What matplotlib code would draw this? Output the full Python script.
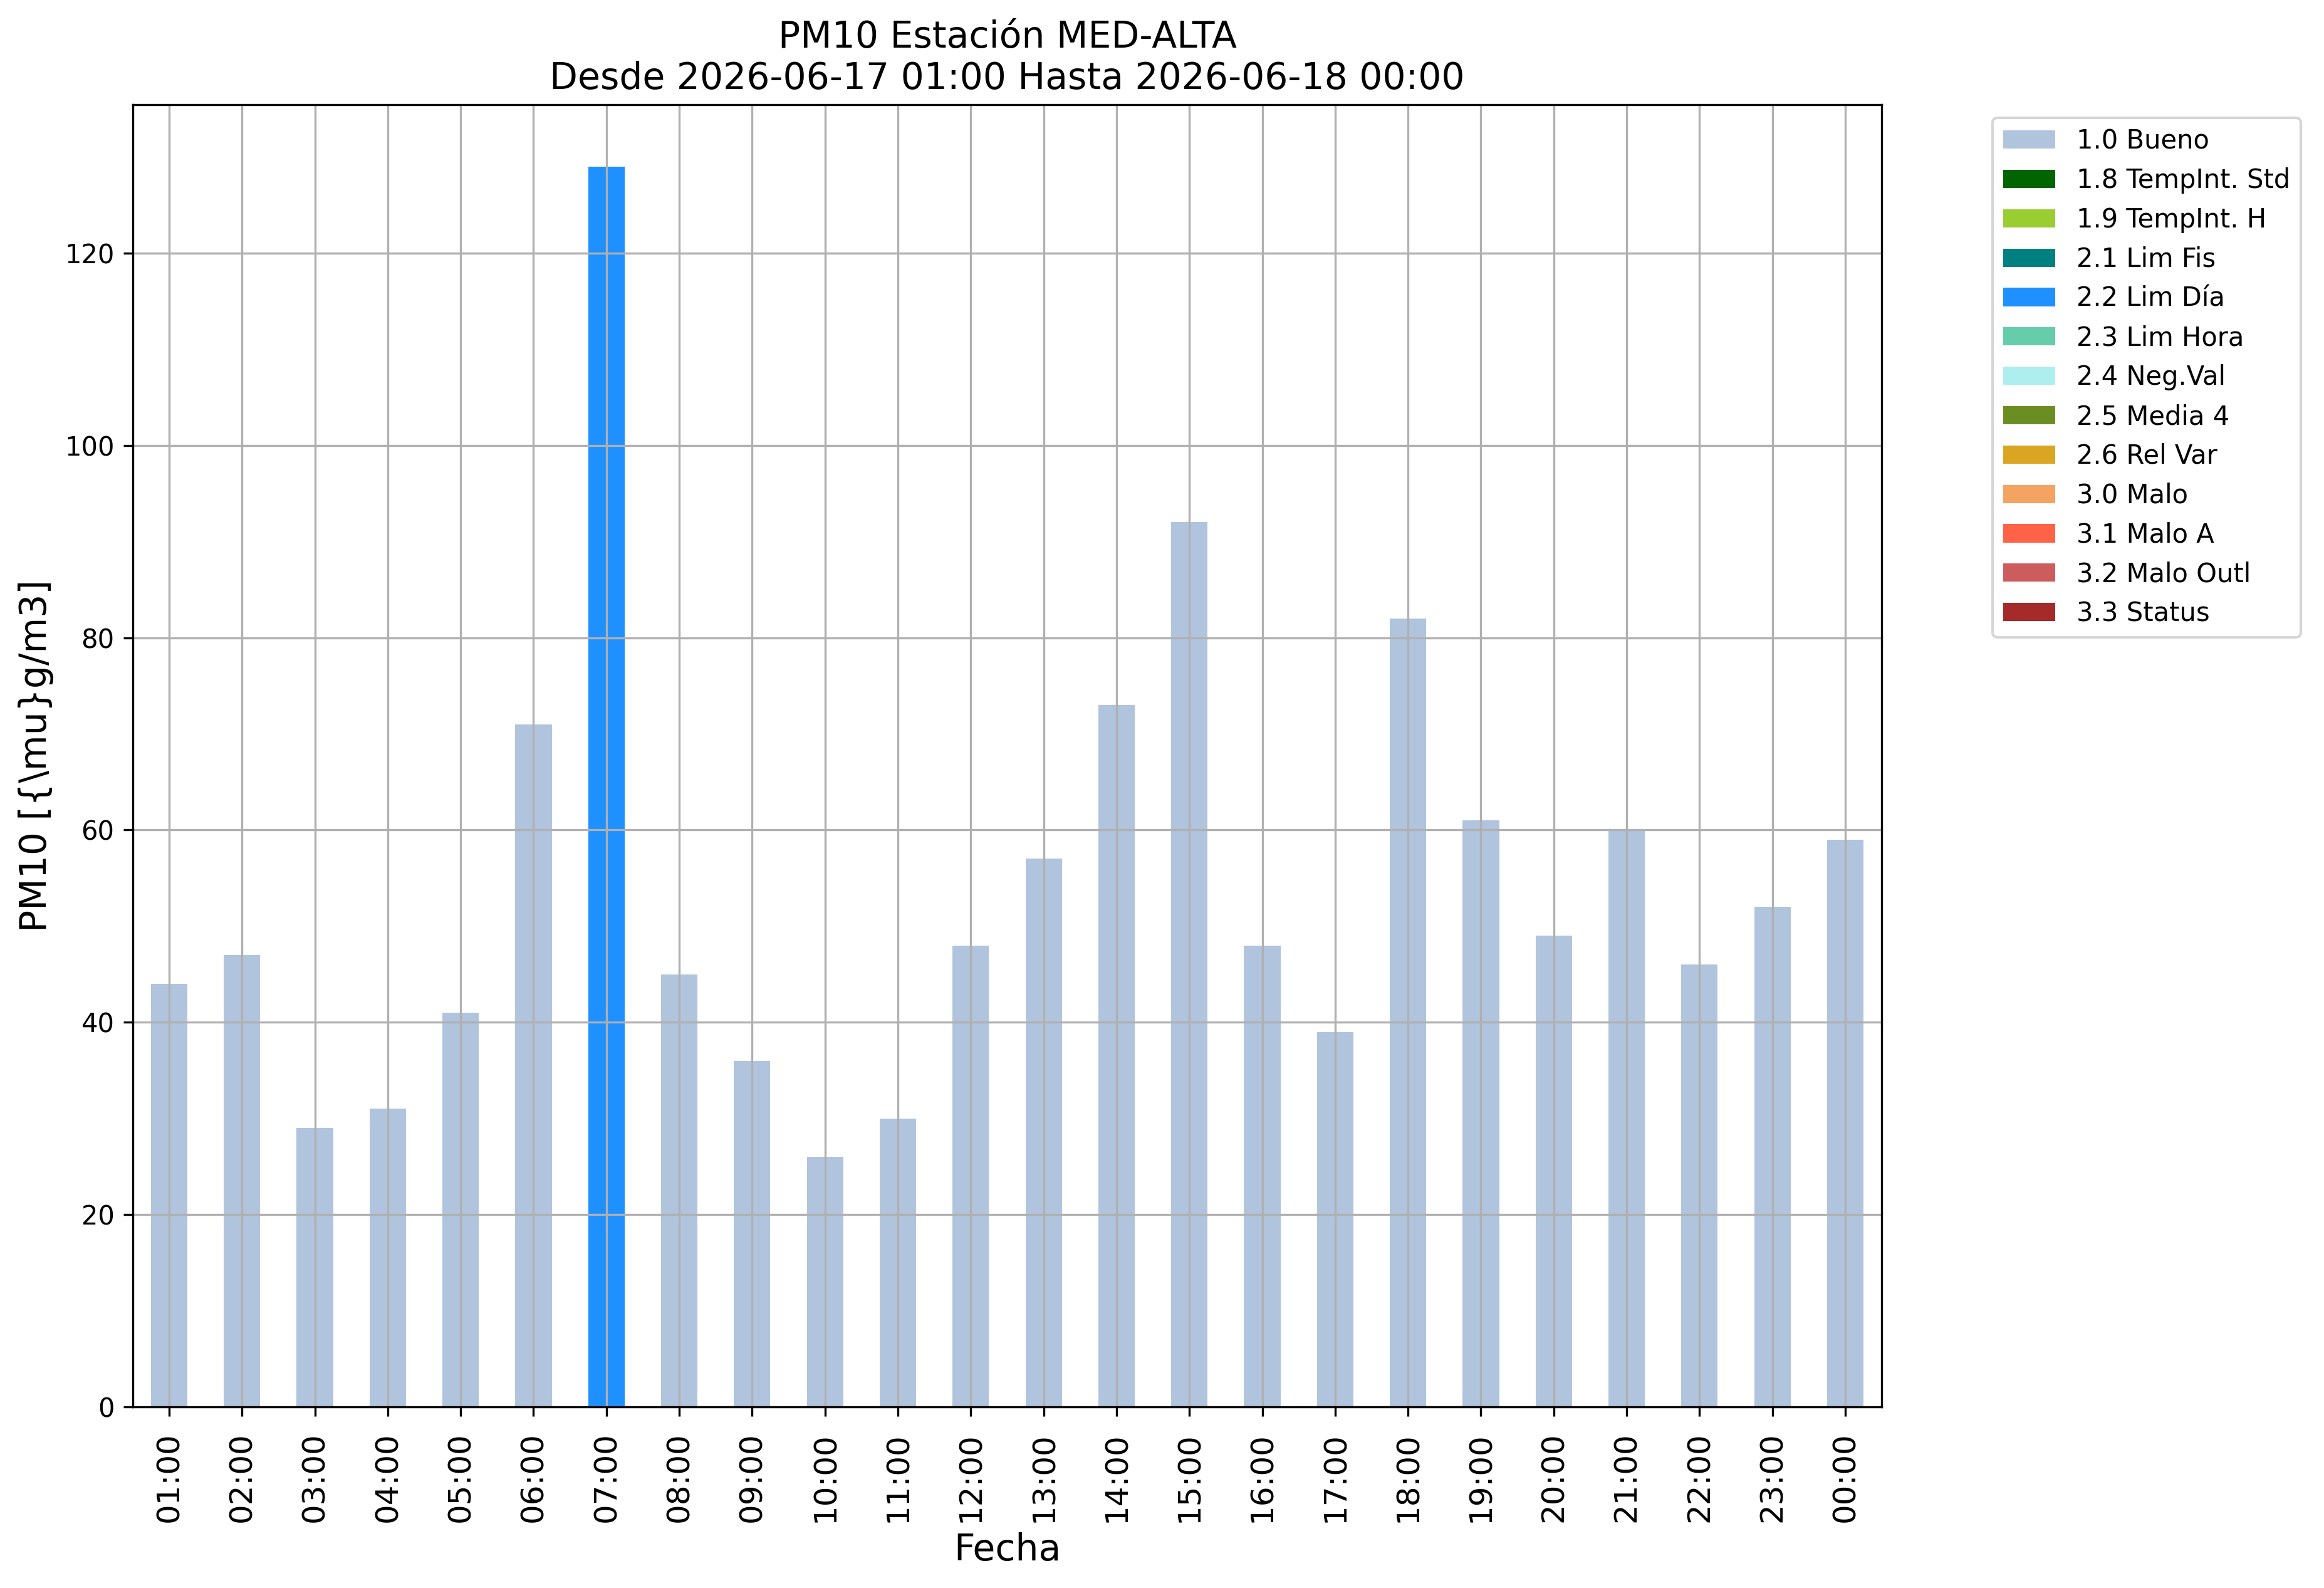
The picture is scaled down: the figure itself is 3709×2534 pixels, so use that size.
import numpy as np
import matplotlib
matplotlib.use("Agg")
import matplotlib.pyplot as plt

# hourly labels and PM10 values
horas = ["01:00", "02:00", "03:00", "04:00", "05:00", "06:00", "07:00", "08:00",
         "09:00", "10:00", "11:00", "12:00", "13:00", "14:00", "15:00", "16:00",
         "17:00", "18:00", "19:00", "20:00", "21:00", "22:00", "23:00", "00:00"]
pm10 = [44, 47, 29, 31, 41, 71, 129, 45, 36, 26, 30, 48, 57, 73, 92, 48,
        39, 82, 61, 49, 60, 46, 52, 59]
# validation flag for each hour
flags = ["1.0 Bueno"] * 24
flags[6] = "2.2 Lim Día"

categorias = ["1.0 Bueno", "1.8 TempInt. Std", "1.9 TempInt. H", "2.1 Lim Fis",
              "2.2 Lim Día", "2.3 Lim Hora", "2.4 Neg.Val", "2.5 Media 4",
              "2.6 Rel Var", "3.0 Malo", "3.1 Malo A", "3.2 Malo Outl", "3.3 Status"]
colores = ["lightsteelblue", "darkgreen", "yellowgreen", "teal", "dodgerblue",
           "mediumaquamarine", "paleturquoise", "olivedrab", "goldenrod",
           "sandybrown", "tomato", "indianred", "brown"]

fig = plt.figure(figsize=(3709 / 300, 2534 / 300), dpi=300)
ax = fig.add_axes([0.0571, 0.1140, 0.7526, 0.8202])

x = np.arange(len(horas))
vals = np.array(pm10, dtype=float)
fl = np.array(flags)
bottom = np.zeros(len(horas))
for cat, col in zip(categorias, colores):
    h = np.where(fl == cat, vals, 0.0)
    ax.bar(x, h, width=0.5, bottom=bottom, color=col, label=cat)
    bottom += h

ax.set_xlim(-0.5, len(horas) - 0.5)
ax.set_ylim(0, max(pm10) * 1.05)
ax.set_xticks(x)
ax.set_xticklabels(horas, rotation=90, fontsize=12)
ax.tick_params(axis="x", pad=6)
ax.tick_params(axis="y", labelsize=10)
ax.grid(True)
ax.set_xlabel("Fecha", fontsize=14)
ax.set_ylabel(r"PM10 [{\mu}g/m3]", fontsize=14)
ax.set_title("PM10 Estación MED-ALTA\nDesde 2026-06-17 01:00 Hasta 2026-06-18 00:00",
             fontsize=14)
ax.legend(bbox_to_anchor=(1.056, 1), loc="upper left", fontsize=10)

fig.savefig("out.png", dpi=300)
